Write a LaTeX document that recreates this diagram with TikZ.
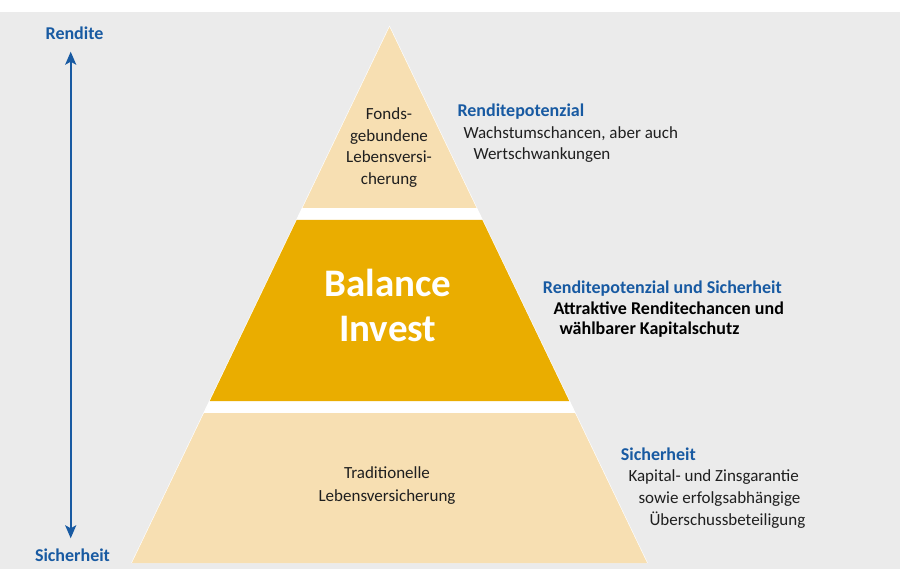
\documentclass[tikz,border=0pt]{standalone}
\usepackage{fontspec}
\setmainfont{Carlito}
\usetikzlibrary{arrows.meta}
\definecolor{bgGray}{RGB}{235,235,235}
\definecolor{tierTan}{RGB}{247,223,178}
\definecolor{tierGold}{RGB}{234,173,0}
\definecolor{headBlue}{RGB}{24,90,162}
\begin{document}
\begin{tikzpicture}[x=1pt, y=-1pt,
    body/.style={font=\fontsize{17}{20}\selectfont, text=black!88, inner sep=0pt},
    head/.style={font=\bfseries\fontsize{18}{21}\selectfont, text=headBlue, inner sep=0pt},
    strong/.style={font=\bfseries\fontsize{18}{21}\selectfont, text=black, inner sep=0pt},
    big/.style={font=\bfseries\fontsize{39}{45}\selectfont, text=white, inner sep=0pt},
    axis/.style={headBlue, line width=2pt, {Stealth[length=13pt,width=11pt,inset=3pt]}-{Stealth[length=13pt,width=11pt,inset=3pt]}}]
    \useasboundingbox[fill=white] (0,0) rectangle (900,569);
    \fill[bgGray] (0,12) rectangle (900,569);

    % pyramid
    \fill[white] (389.5,27) -- (131.9,563) -- (647.1,563) -- cycle;
    \draw[white, line width=1.2pt] (131.9,563) -- (389.5,27) -- (647.1,563);
    \fill[tierTan] (389.5,27) -- (302.5,208) -- (476.5,208) -- cycle;
    \fill[tierGold] (296.7,220) -- (209.8,401) -- (569.2,401) -- (482.3,220) -- cycle;
    \fill[tierTan] (204.0,413) -- (131.9,563) -- (647.1,563) -- (575.0,413) -- cycle;

    \foreach \t [count=\i] in {Fonds-, gebundene, Lebensversi-, cherung}
        \node[body, anchor=base] (fonds\i) at (389,{120+21.5*(\i-1)}) {\t};

    \node[big, anchor=base] (balance) at (388,296.7) {Balance};
    \node[big, anchor=base] (invest) at (387.7,341.7) {Invest};

    \node[body, anchor=base] (trad1) at (387,478) {Traditionelle};
    \node[body, anchor=base] (trad2) at (387,501) {Lebensversicherung};

    % axis
    \coordinate (up) at (70.7,51.7);
    \coordinate (down) at (70.7,538.3);
    \draw[axis] (down) -- (up);
    \node[head, anchor=base] (rendite) at (74.5,39.3) {Rendite};
    \node[head, anchor=base] (sicherheit) at (72.5,561.7) {Sicherheit};

    % right side
    \node[head, anchor=base west] (potHead) at (457.3,116.7) {Renditepotenzial};
    \node[body, anchor=base west] (pot1) at (463.3,138.3) {Wachstumschancen, aber auch};
    \node[body, anchor=base west] (pot2) at (473.3,160) {Wertschwankungen};

    \node[head, anchor=base west] (balHead) at (542.7,293.3) {Renditepotenzial und Sicherheit};
    \node[strong, anchor=base west] (bal1) at (553.3,314.3) {Attraktive Renditechancen und};
    \node[strong, anchor=base west] (bal2) at (559.3,335) {wählbarer Kapitalschutz};

    \node[head, anchor=base west] (sichHead) at (620.7,460) {Sicherheit};
    \node[body, anchor=base west] (sich1) at (628.3,481.7) {Kapital- und Zinsgarantie};
    \node[body, anchor=base west] (sich2) at (638.3,503.3) {sowie erfolgsabhängige};
    \node[body, anchor=base west] (sich3) at (649.3,525) {Überschussbeteiligung};
\end{tikzpicture}
\end{document}
